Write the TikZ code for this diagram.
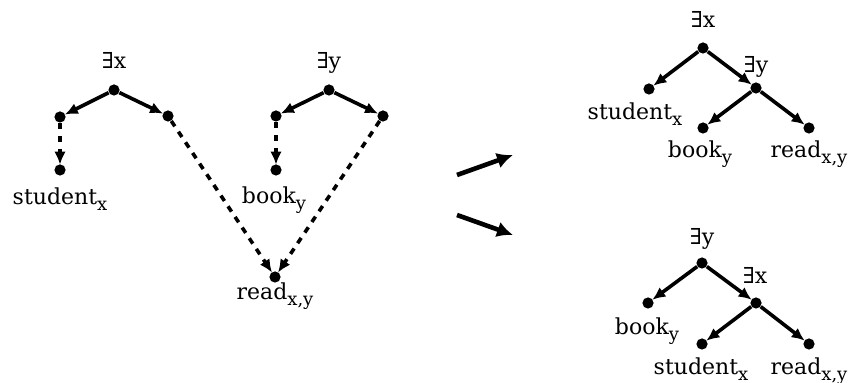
\documentclass[tikz,border=0pt]{standalone}
\usepackage{fontspec}
\setmainfont{DejaVu Serif}
\usepackage{tikz}
\usetikzlibrary{arrows.meta}

% lowered index as in the drawing
\newcommand{\idx}[1]{\raisebox{-2.6pt}{\fontsize{9}{10}\selectfont #1}}

\tikzset{
  pt/.style={circle, fill=black, inner sep=0pt, minimum size=5.6pt},
  lbl/.style={anchor=base, inner sep=0pt},
  branch/.style={-{Latex[length=6.5pt,width=5.8pt]}, line width=1.8pt, shorten >=-0.3pt},
  dashbranch/.style={branch, dash pattern=on 3.2pt off 3.2pt},
  bigarrow/.style={-{Latex[length=8pt,width=8pt]}, line width=2.3pt}
}

\begin{document}
\begin{tikzpicture}[x=0.5pt, y=-0.5pt, font=\fontsize{11}{13}\selectfont]
\useasboundingbox (0,0) rectangle (850,383);

% left: two separate quantifier trees
\node[pt] (qx)  at (114,90)  {};
\node[pt] (qxl) at (60,117)  {};
\node[pt] (qxr) at (168,116) {};
\node[pt] (stu) at (60,170)  {};
\node[pt] (qy)  at (329,90)  {};
\node[pt] (qyl) at (276,116) {};
\node[pt] (qyr) at (383,116) {};
\node[pt] (bk)  at (276,170) {};
\node[pt] (rd)  at (275,277) {};

\node[lbl] (qxlab)  at (114,69)  {∃x};
\node[lbl] (qylab)  at (329,69)  {∃y};
\node[lbl] (stulab) at (60,205)  {student\idx{x}};
\node[lbl] (bklab)  at (274,204) {book\idx{y}};
\node[lbl] (rdlab)  at (275,300) {read\idx{x,y}};

\foreach \a/\b in {qx/qxl, qx/qxr, qy/qyl, qy/qyr}
  \draw[branch] (\a) -- (\b);
\foreach \a/\b in {qxl/stu, qxr/rd, qyl/bk, qyr/rd}
  \draw[dashbranch] (\a) -- (\b);

% the two ways to combine them
\coordinate (ua) at (457,175);
\coordinate (ub) at (513,155);
\coordinate (la) at (457,215);
\coordinate (lb) at (513,235);
\draw[bigarrow] (ua) -- (ub);
\draw[bigarrow] (la) -- (lb);

% right, top: x over y
\node[pt] (tx) at (703,48)  {};
\node[pt] (ts) at (649,89)  {};
\node[pt] (ty) at (756,88)  {};
\node[pt] (tb) at (703,128) {};
\node[pt] (tr) at (809,128) {};

\node[lbl] (txlab) at (703,28)  {∃x};
\node[lbl] (tylab) at (756,73)  {∃y};
\node[lbl] (tslab) at (635,120) {student\idx{x}};
\node[lbl] (tblab) at (700,158) {book\idx{y}};
\node[lbl] (trlab) at (809,158) {read\idx{x,y}};

\foreach \a/\b in {tx/ts, tx/ty, ty/tb, ty/tr}
  \draw[branch] (\a) -- (\b);

% right, bottom: y over x
\node[pt] (by) at (702,263) {};
\node[pt] (bb) at (648,303) {};
\node[pt] (bx) at (756,303) {};
\node[pt] (bs) at (702,344) {};
\node[pt] (br) at (809,344) {};

\node[lbl] (bylab) at (702,245) {∃y};
\node[lbl] (bxlab) at (755,284) {∃x};
\node[lbl] (bblab) at (647,335) {book\idx{y}};
\node[lbl] (bslab) at (701,375) {student\idx{x}};
\node[lbl] (brlab) at (809,375) {read\idx{x,y}};

\foreach \a/\b in {by/bb, by/bx, bx/bs, bx/br}
  \draw[branch] (\a) -- (\b);
\end{tikzpicture}
\end{document}
